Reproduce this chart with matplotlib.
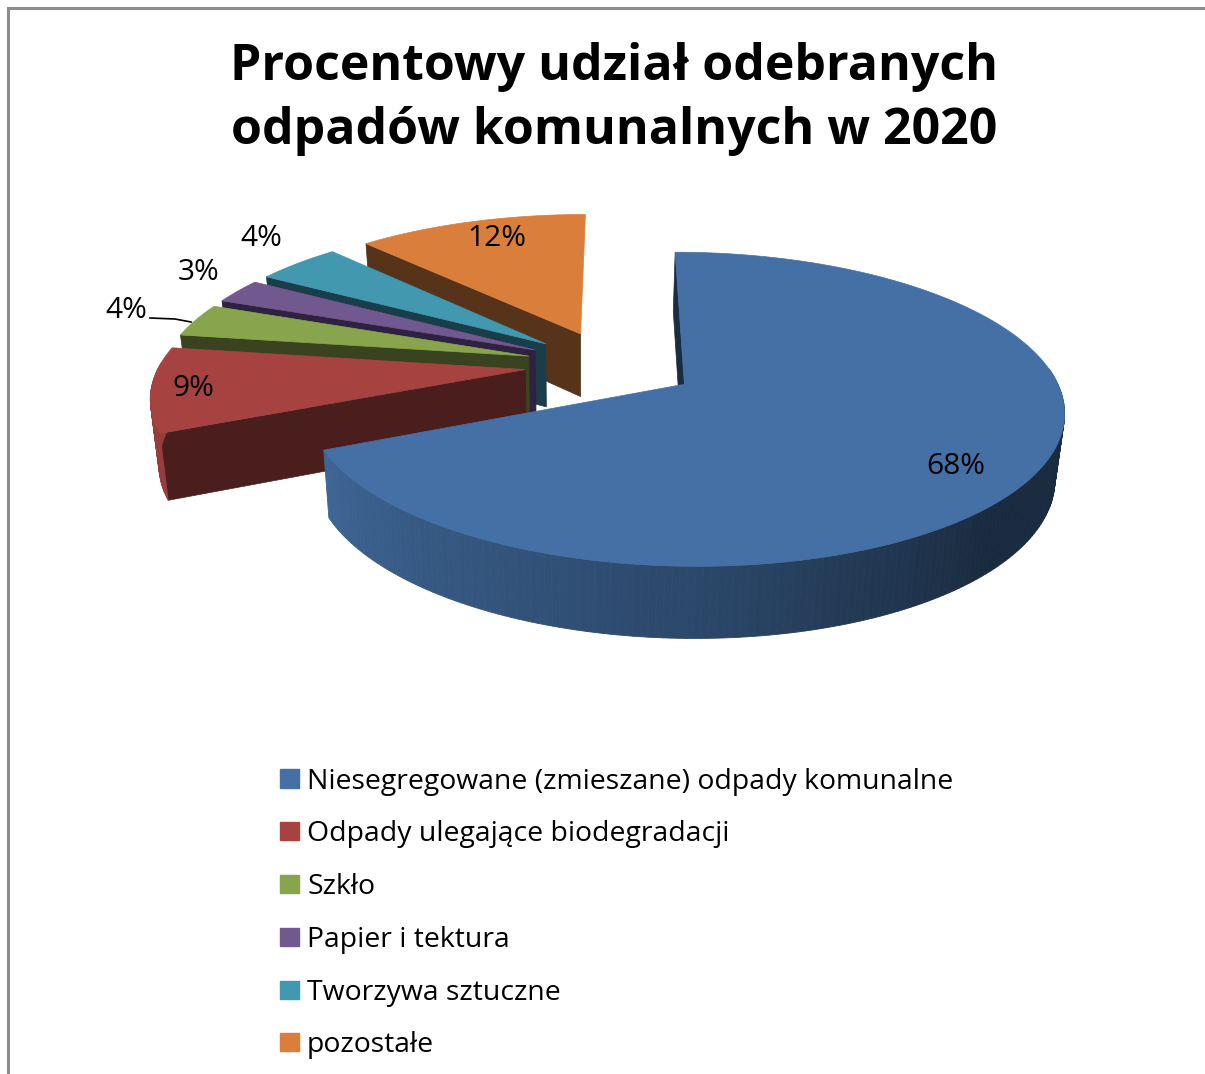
#!/usr/bin/env python3
"""Exploded 3D-looking pie chart, share of collected municipal waste in 2020."""

import matplotlib

matplotlib.use("Agg")
import matplotlib.pyplot as plt
import numpy as np
from matplotlib.colors import to_rgb
from matplotlib.patches import Patch, Polygon

TITLE = "Procentowy udział odebranych\nodpadów komunalnych w 2020"
CATEGORIES = [
    "Niesegregowane (zmieszane) odpady komunalne",
    "Odpady ulegające biodegradacji",
    "Szkło",
    "Papier i tektura",
    "Tworzywa sztuczne",
    "pozostałe",
]
VALUES = [68.4, 9.0, 3.55, 2.65, 4.4, 12.0]

COLORS = ["#4470A5", "#A64341", "#88A44C", "#71588F", "#4198AF", "#D97F3B"]
WALL_COLORS = ["#1A2C44", "#4A1E1C", "#3A431F", "#2E2240", "#1A3D4A", "#57331A"]
LABEL_POS = [(956, 467), (193, 389), (126, 310), (199, 273), (261, 238), (497, 238)]

# pie plane -> picture pixels, fitted by eye
X0, Y0 = 611, 365
A, B = 366, 147
SKEW = -1
PERSP = 0.156
EXPLODE = 0.235
DEPTH = 64


def project(u, v):
    """Pie plane coordinates to pixels (v grows toward the viewer)."""
    w = 1 - PERSP * v
    return X0 + (A * u + SKEW * v) / w, Y0 + B * v / w


def lower(x, y, v):
    """Same point on the underside of the pie."""
    return 580 + (x - 580) * 0.98, y + DEPTH / (1 - 0.1 * v)


def rim_shade(deg):
    """Rim gets darker from the left side round to the right side."""
    return np.interp(deg, [135, 180, 245, 360], [0.38, 0.64, 0.9, 0.95])


def draw_slice(ax, start, sweep, color, wall):
    mid = np.radians(start + sweep / 2)
    ou, ov = EXPLODE * np.sin(mid), -EXPLODE * np.cos(mid)
    deg = np.linspace(start, start + sweep, max(int(sweep), 2) + 1)
    u = ou + np.sin(np.radians(deg))
    v = ov - np.cos(np.radians(deg))
    x, y = project(u, v)
    xl, yl = lower(x, y, v)
    ax_, ay_ = project(ou, ov)
    axl, ayl = lower(ax_, ay_, ov)

    # cut face on the start side, the end side never shows
    pts = [(ax_, ay_), (x[0], y[0]), (xl[0], yl[0]), (axl, ayl)]
    ax.add_patch(Polygon(pts, fc=wall, ec=wall, lw=0.5))

    # outer rim, one small quad per degree for the shading, front part only
    base = np.array(to_rgb(color))
    for i in range(len(deg) - 1):
        if deg[i + 1] < 85 or deg[i] > 272:
            continue
        pts = [(x[i], y[i]), (x[i + 1], y[i + 1]), (xl[i + 1], yl[i + 1]), (xl[i], yl[i])]
        c = base * rim_shade((deg[i] + deg[i + 1]) / 2)
        ax.add_patch(Polygon(pts, fc=c, ec=c, lw=0.6))

    # top face
    pts = [(ax_, ay_)] + list(zip(x, y))
    ax.add_patch(Polygon(pts, fc=color, ec=color, lw=0.5))


fig = plt.figure(figsize=(12.05, 10.74), dpi=100)
ax = fig.add_axes([0, 0, 1, 1])
ax.set_xlim(0, 1205)
ax.set_ylim(1074, 0)
ax.axis("off")
plt.rcParams["font.family"] = ["Open Sans", "DejaVu Sans"]

# chart frame, only left and top show
ax.plot([7.5, 7.5, 1205], [1074, 7.5, 7.5], color="#8C8C8C", lw=2.2, solid_joinstyle="miter")

# painter's order: back slices first, the big one last
sweeps = np.array(VALUES) / sum(VALUES) * 360
starts = np.concatenate([[0], np.cumsum(sweeps)[:-1]])
for i in range(len(VALUES) - 1, -1, -1):
    draw_slice(ax, starts[i], sweeps[i], COLORS[i], WALL_COLORS[i])

for val, (lx, ly) in zip(VALUES, LABEL_POS):
    ax.text(lx, ly, f"{val:.0f}%", ha="center", va="center", fontsize=21.5, color="black")
ax.plot([150, 175, 191], [318, 319, 322], color="black", lw=1.2)

ax.text(614, 99, TITLE, ha="center", va="center", fontsize=36, fontweight="bold",
        color="black", linespacing=1.36)

handles = [Patch(fc=c, ec=c) for c in COLORS]
ax.legend(handles, CATEGORIES, loc="upper left", bbox_to_anchor=(271.5 / 1205, 1 - 759 / 1074),
          frameon=False, fontsize=20.45, handlelength=0.67, handleheight=0.6,
          handletextpad=0.28, labelspacing=0.872, borderpad=0.3, borderaxespad=0)

fig.savefig("out.png", dpi=100)
plt.close(fig)
